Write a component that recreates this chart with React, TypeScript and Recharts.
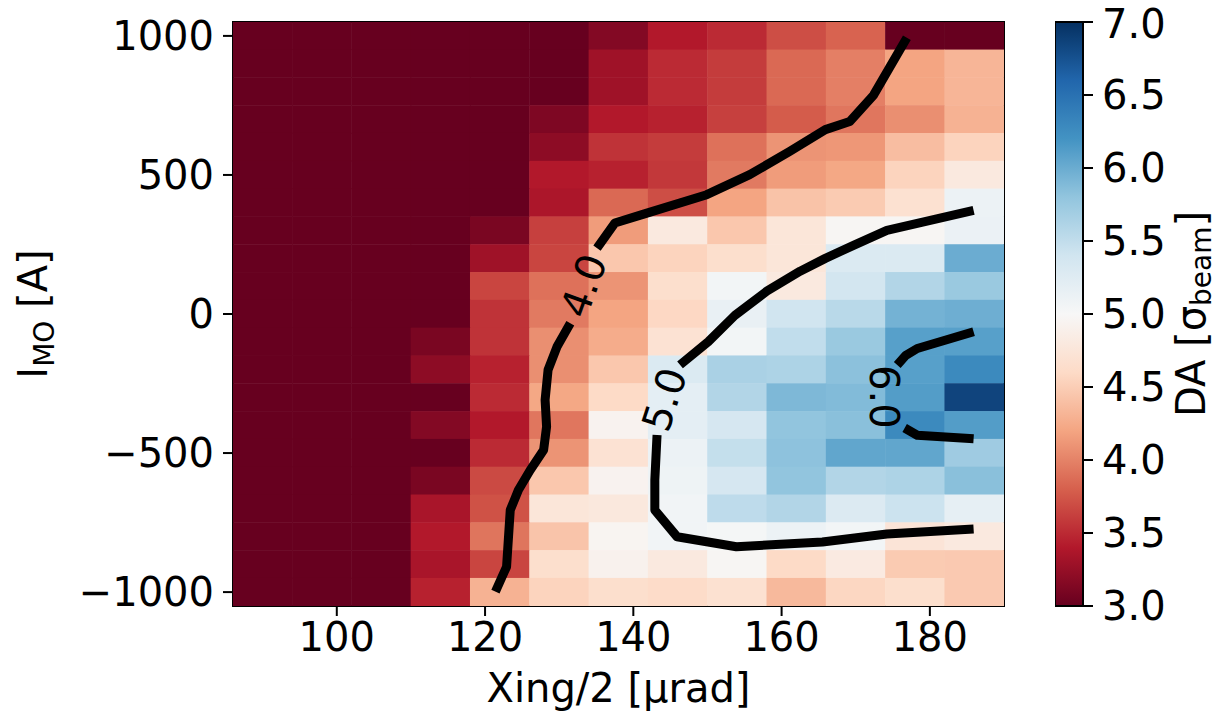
import React from "react";
import { Bar, BarChart, Customized, Scatter, ScatterChart, XAxis, YAxis } from "recharts";

// column centres of the scan, Xing/2 [µrad]
const xingValues = [90, 98, 106, 114, 122, 130, 138, 146, 154, 162, 170, 178, 186];
// row centres of the scan, I_MO [A] (top to bottom)
const imoValues = [
  1000, 900, 800, 700, 600, 500, 400, 300, 200, 100, 0,
  -100, -200, -300, -400, -500, -600, -700, -800, -900, -1000,
];

// DA [sigma_beam], one row per I_MO value, one entry per Xing/2 column
const daRows = [
  [3.0, 3.0, 3.0, 3.0, 3.0, 3.0, 3.15, 3.4, 3.5, 3.7, 3.82, 3.0, 3.0],
  [3.0, 3.0, 3.0, 3.0, 3.0, 3.0, 3.3, 3.5, 3.6, 3.85, 3.98, 4.2, 4.32],
  [3.0, 3.0, 3.0, 3.0, 3.0, 3.0, 3.3, 3.5, 3.6, 3.85, 3.98, 4.2, 4.32],
  [3.0, 3.0, 3.0, 3.0, 3.0, 3.12, 3.4, 3.45, 3.62, 3.78, 3.93, 4.07, 4.3],
  [3.0, 3.0, 3.0, 3.0, 3.0, 3.2, 3.55, 3.6, 3.9, 4.1, 4.12, 4.38, 4.55],
  [3.0, 3.0, 3.0, 3.0, 3.0, 3.4, 3.45, 3.58, 3.95, 4.15, 4.22, 4.55, 4.8],
  [3.0, 3.0, 3.0, 3.0, 3.0, 3.37, 3.85, 3.7, 4.2, 4.42, 4.48, 4.68, 5.12],
  [3.0, 3.0, 3.0, 3.0, 3.1, 3.62, 4.15, 4.8, 4.45, 4.75, 4.97, 4.97, 5.13],
  [3.0, 3.0, 3.0, 3.0, 3.3, 3.65, 4.45, 4.55, 4.65, 4.75, 5.3, 5.3, 6.0],
  [3.0, 3.0, 3.0, 3.0, 3.65, 3.9, 4.1, 4.65, 5.05, 4.8, 5.38, 5.6, 5.75],
  [3.0, 3.0, 3.0, 3.0, 3.55, 3.95, 4.2, 4.58, 5.15, 5.4, 5.55, 5.95, 5.98],
  [3.0, 3.0, 3.0, 3.1, 3.55, 4.07, 4.25, 4.7, 5.05, 5.5, 5.75, 6.1, 6.1],
  [3.0, 3.0, 3.0, 3.2, 3.45, 4.07, 4.45, 5.3, 5.65, 5.63, 5.83, 6.1, 6.28],
  [3.0, 3.0, 3.0, 3.0, 3.5, 4.22, 4.6, 5.2, 5.6, 5.9, 5.88, 6.12, 6.85],
  [3.0, 3.0, 3.0, 3.15, 3.4, 3.93, 4.93, 5.2, 5.35, 5.8, 5.84, 6.28, 6.12],
  [3.0, 3.0, 3.0, 3.0, 3.5, 4.1, 4.7, 5.12, 5.48, 5.82, 6.05, 6.05, 5.72],
  [3.0, 3.0, 3.0, 3.1, 3.68, 4.45, 4.93, 5.1, 5.35, 5.8, 5.6, 5.63, 5.84],
  [3.0, 3.0, 3.0, 3.35, 3.72, 4.75, 4.78, 5.06, 5.52, 5.6, 5.28, 5.43, 5.18],
  [3.0, 3.0, 3.0, 3.4, 3.92, 4.43, 4.95, 5.06, 5.03, 5.12, 5.05, 4.73, 4.8],
  [3.0, 3.0, 3.0, 3.35, 3.65, 4.65, 4.92, 4.8, 4.97, 4.6, 4.82, 4.48, 4.47],
  [3.0, 3.0, 3.0, 3.45, 4.3, 4.55, 4.65, 4.62, 4.68, 4.35, 4.57, 4.65, 4.47],
];

const xTicks = [100, 120, 140, 160, 180];
const yTicks = [-1000, -500, 0, 500, 1000];
const colorbarTicks = [3.0, 3.5, 4.0, 4.5, 5.0, 5.5, 6.0, 6.5, 7.0];

// contour lines (x = Xing/2, y = I_MO), split at the inline labels
const contour40Lower = [
  { x: 121.4, y: -998 }, { x: 122.9, y: -909 }, { x: 123.4, y: -705 },
  { x: 124.5, y: -633 }, { x: 126.1, y: -561 }, { x: 127.9, y: -489 },
  { x: 128.3, y: -405 }, { x: 128.1, y: -309 }, { x: 128.5, y: -201 },
  { x: 129.7, y: -118 }, { x: 131.5, y: -33 },
];
const contour40Upper = [
  { x: 135.1, y: 237 }, { x: 137.5, y: 327 }, { x: 141.5, y: 360 },
  { x: 149.9, y: 429 }, { x: 155.7, y: 501 }, { x: 161.1, y: 585 },
  { x: 165.9, y: 663 }, { x: 169.2, y: 692 }, { x: 172.4, y: 787 },
  { x: 176.9, y: 993 },
];
const contour50Upper = [
  { x: 146.3, y: -183 }, { x: 150.1, y: -100 }, { x: 153.7, y: -5 },
  { x: 158.0, y: 82 }, { x: 162.5, y: 154 }, { x: 165.9, y: 200 },
  { x: 169.7, y: 247 }, { x: 174.2, y: 301 }, { x: 185.9, y: 373 },
];
const contour50Lower = [
  { x: 143.2, y: -435 }, { x: 142.9, y: -597 }, { x: 142.9, y: -705 },
  { x: 145.9, y: -801 }, { x: 153.9, y: -837 }, { x: 165.5, y: -820 },
  { x: 174.2, y: -791 }, { x: 185.9, y: -773 },
];
const contour60Upper = [
  { x: 175.6, y: -183 }, { x: 176.7, y: -150 }, { x: 178.3, y: -124 },
  { x: 185.9, y: -64 },
];
const contour60Lower = [
  { x: 176.6, y: -410 }, { x: 178.3, y: -436 }, { x: 185.9, y: -449 },
];
const contourLabels = [
  { x: 133.3, y: 102, text: "4.0", angle: -70 },
  { x: 144.2, y: -307, text: "5.0", angle: -72 },
  { x: 173.8, y: -298, text: "6.0", angle: 90 },
];

// matplotlib RdBu
const rdbu = [
  "#67001f", "#b2182b", "#d6604d", "#f4a582", "#fddbc7", "#f7f7f7",
  "#d1e5f0", "#92c5de", "#4393c3", "#2166ac", "#053061",
];

const FONT = "DejaVu Sans, sans-serif";
const W = 1221;
const H = 721;
const PLOT_LEFT = 233;
const PLOT_RIGHT = 1004;
const PLOT_TOP = 22;
const PLOT_BOTTOM = 606;
const X_DOMAIN = [86, 190];
const Y_DOMAIN = [-1050, 1050];
const CELL_W = ((PLOT_RIGHT - PLOT_LEFT) * 8) / (X_DOMAIN[1] - X_DOMAIN[0]);
const CELL_H = ((PLOT_BOTTOM - PLOT_TOP) * 100) / (Y_DOMAIN[1] - Y_DOMAIN[0]);
const CB_LEFT = 1055;
const CB_WIDTH = 28;

const hexToRgb = (h: string) => [
  parseInt(h.slice(1, 3), 16),
  parseInt(h.slice(3, 5), 16),
  parseInt(h.slice(5, 7), 16),
];

const daColor = (v: number) => {
  const t = Math.min(Math.max((v - 3) / 4, 0), 1) * (rdbu.length - 1);
  const i = Math.min(Math.floor(t), rdbu.length - 2);
  const f = t - i;
  const a = hexToRgb(rdbu[i]);
  const b = hexToRgb(rdbu[i + 1]);
  const c = a.map((av, k) => Math.round(av + (b[k] - av) * f));
  return `rgb(${c[0]},${c[1]},${c[2]})`;
};

const cells = daRows.flatMap((row, i) =>
  row.map((v, j) => ({ x: xingValues[j], y: imoValues[i], v }))
);

const colorbarData = [{ name: "DA", range: [colorbarTicks[0], colorbarTicks[colorbarTicks.length - 1]] }];

const fmtY = (v: number) => (v < 0 ? `\u2212${Math.abs(v)}` : `${v}`);

const renderCell = (props: any) => {
  const { cx, cy, payload } = props;
  if (cx == null || cy == null) return <g />;
  return (
    <rect
      x={cx - CELL_W / 2 - 0.25}
      y={cy - CELL_H / 2 - 0.25}
      width={CELL_W + 0.5}
      height={CELL_H + 0.5}
      fill={daColor(payload.v)}
    />
  );
};

const renderNothing = () => <g />;

const renderContourLabel = (props: any) => {
  const { cx, cy, payload } = props;
  if (cx == null || cy == null) return <g />;
  return (
    <text
      x={cx}
      y={cy}
      transform={`rotate(${payload.angle} ${cx} ${cy})`}
      textAnchor="middle"
      dominantBaseline="central"
      fontSize={40}
      fontFamily={FONT}
      fill="#000"
    >
      {payload.text}
    </text>
  );
};

const Overlay = () => (
  <g>
    <rect
      x={PLOT_LEFT}
      y={PLOT_TOP}
      width={PLOT_RIGHT - PLOT_LEFT}
      height={PLOT_BOTTOM - PLOT_TOP}
      fill="none"
      stroke="#000"
      strokeWidth={2}
    />
    <text x={(PLOT_LEFT + PLOT_RIGHT) / 2} y={702} textAnchor="middle" fontSize={40} fontFamily={FONT} fill="#000">
      Xing/2 [μrad]
    </text>
    <text
      transform={`translate(47 ${(PLOT_TOP + PLOT_BOTTOM) / 2}) rotate(-90)`}
      textAnchor="middle"
      fontSize={40}
      fontFamily={FONT}
      fill="#000"
    >
      I
      <tspan fontSize={28} dy={7}>MO</tspan>
      <tspan dy={-7}> [A]</tspan>
    </text>
    <text
      transform={`translate(1205 ${(PLOT_TOP + PLOT_BOTTOM) / 2}) rotate(-90)`}
      textAnchor="middle"
      fontSize={40}
      fontFamily={FONT}
      fill="#000"
    >
      DA [σ
      <tspan fontSize={28} dy={6}>beam</tspan>
      <tspan dy={-6}>]</tspan>
    </text>
  </g>
);

const tickStyle = { fill: "#000", fontSize: 40, fontFamily: FONT };
const tickLine = { stroke: "#000", strokeWidth: 2 };
const contourLine = { stroke: "#000", strokeWidth: 9, strokeLinejoin: "round" as const };

const contours = [contour40Lower, contour40Upper, contour50Upper, contour50Lower, contour60Upper, contour60Lower];

export default function App() {
  return (
    <div style={{ position: "absolute", left: 0, top: 0, width: W, height: H, background: "#fff" }}>
      <ScatterChart
        width={W}
        height={H}
        margin={{ top: PLOT_TOP, right: W - PLOT_RIGHT, bottom: 0, left: 0 }}
      >
        <XAxis
          type="number"
          dataKey="x"
          domain={X_DOMAIN}
          ticks={xTicks}
          allowDataOverflow
          height={H - PLOT_BOTTOM}
          tickSize={10}
          tickMargin={7}
          axisLine={false}
          tickLine={tickLine}
          tick={tickStyle}
        />
        <YAxis
          type="number"
          dataKey="y"
          domain={Y_DOMAIN}
          ticks={yTicks}
          allowDataOverflow
          width={PLOT_LEFT}
          tickSize={10}
          tickMargin={9}
          axisLine={false}
          tickLine={tickLine}
          tick={tickStyle}
          tickFormatter={fmtY}
        />
        <Scatter data={cells} shape={renderCell} isAnimationActive={false} />
        {contours.map((seg, i) => (
          <Scatter
            key={i}
            data={seg}
            fill="#000"
            line={contourLine}
            lineType="joint"
            shape={renderNothing}
            isAnimationActive={false}
          />
        ))}
        <Scatter data={contourLabels} shape={renderContourLabel} isAnimationActive={false} />
        <Customized component={Overlay} />
      </ScatterChart>
      <div style={{ position: "absolute", left: CB_LEFT, top: 0 }}>
        <BarChart
          width={W - CB_LEFT}
          height={H}
          data={colorbarData}
          margin={{ top: PLOT_TOP, right: 0, bottom: H - PLOT_BOTTOM, left: 0 }}
          barCategoryGap={0}
        >
          <defs>
            <linearGradient id="rdbuGradient" x1="0" y1="1" x2="0" y2="0">
              {rdbu.map((c, i) => (
                <stop key={c} offset={`${(i / (rdbu.length - 1)) * 100}%`} stopColor={c} />
              ))}
            </linearGradient>
          </defs>
          <XAxis dataKey="name" hide />
          <YAxis
            type="number"
            orientation="right"
            domain={[colorbarTicks[0], colorbarTicks[colorbarTicks.length - 1]]}
            ticks={colorbarTicks}
            width={W - CB_LEFT - CB_WIDTH}
            tickSize={10}
            tickMargin={9}
            axisLine={false}
            tickLine={tickLine}
            tick={tickStyle}
            tickFormatter={(v: number) => v.toFixed(1)}
          />
          <Bar dataKey="range" fill="url(#rdbuGradient)" stroke="#000" strokeWidth={2} isAnimationActive={false} />
        </BarChart>
      </div>
    </div>
  );
}
